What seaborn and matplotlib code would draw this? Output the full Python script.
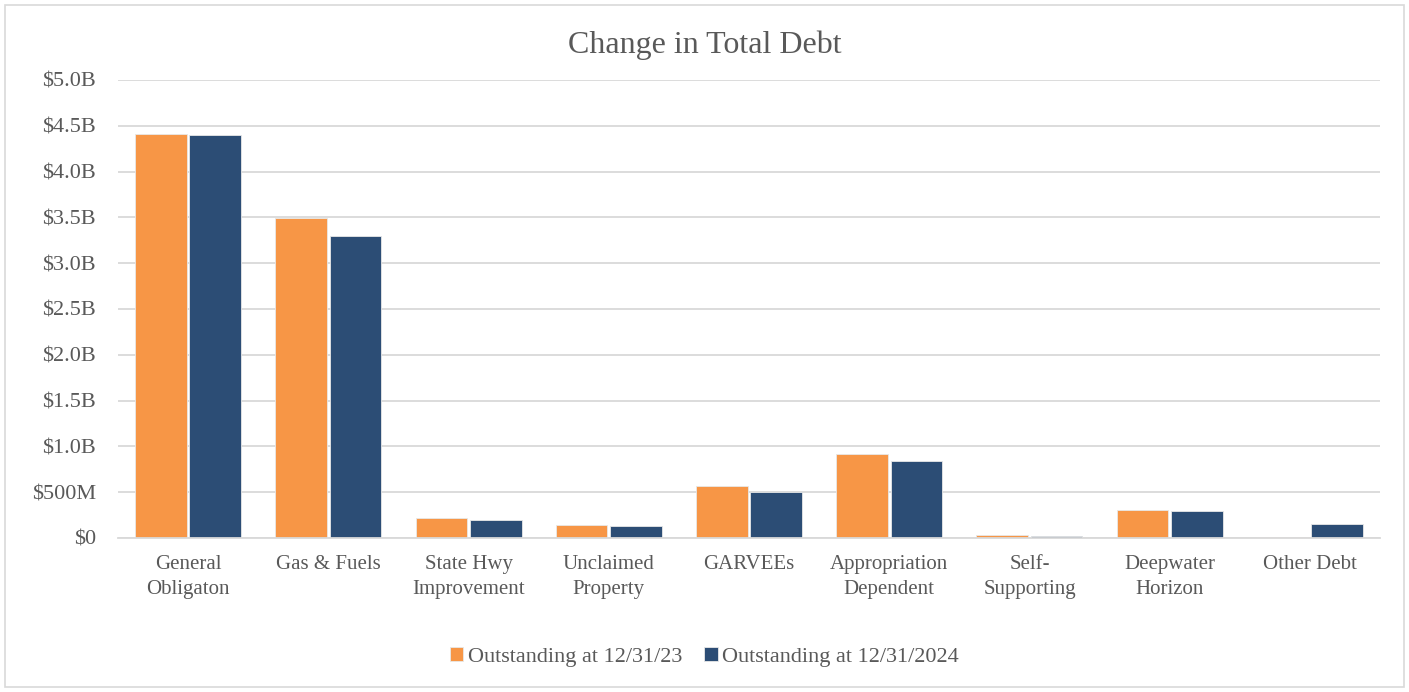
import matplotlib
matplotlib.use("Agg")
import matplotlib.pyplot as plt
from matplotlib.patches import Rectangle
import seaborn as sns
import pandas as pd

categories = ["General\nObligaton", "Gas & Fuels", "State Hwy\nImprovement", "Unclaimed\nProperty",
              "GARVEEs", "Appropriation\nDependent", "Self-\nSupporting", "Deepwater\nHorizon", "Other Debt"]
series_names = ["Outstanding at 12/31/23", "Outstanding at 12/31/2024"]
# Outstanding debt in billions of dollars
debt_2023 = [4.41, 3.49, 0.215, 0.145, 0.568, 0.917, 0.028, 0.305, 0.012]
debt_2024 = [4.40, 3.30, 0.197, 0.131, 0.502, 0.840, 0.020, 0.300, 0.150]
tick_values = [0, 0.5, 1.0, 1.5, 2.0, 2.5, 3.0, 3.5, 4.0, 4.5, 5.0]
tick_labels = ["$0", "$500M", "$1.0B", "$1.5B", "$2.0B", "$2.5B", "$3.0B", "$3.5B", "$4.0B", "$4.5B", "$5.0B"]

df = pd.DataFrame({
    "category": categories * 2,
    "series": [series_names[0]] * len(categories) + [series_names[1]] * len(categories),
    "value": debt_2023 + debt_2024,
})

sns.set_theme(style="white")
plt.rcParams["font.family"] = ["Liberation Serif", "DejaVu Serif"]
text_color = "#595959"

fig = plt.figure(figsize=(14.09, 6.92), dpi=100)
ax = fig.add_axes([118 / 1409, 1 - 538 / 692, (1380 - 118) / 1409, (538 - 80) / 692])

sns.barplot(data=df, x="category", y="value", hue="series", order=categories,
            hue_order=series_names, palette=["#F79646", "#2C4D75"],
            width=0.775, gap=0.05, ax=ax, edgecolor="#E8E8E8", linewidth=0.6,
            saturation=1, legend=True)

ax.set_ylim(0, 5.0)
ax.set_xlim(-0.5, len(categories) - 0.5)
ax.set_yticks(tick_values, tick_labels)
ax.yaxis.grid(True, color="#D9D9D9", linewidth=1.3)
ax.set_axisbelow(True)
for s in ["top", "right", "left"]:
    ax.spines[s].set_visible(False)
ax.spines["bottom"].set_color("#D9D9D9")
ax.spines["bottom"].set_linewidth(1.3)
ax.tick_params(axis="both", length=0, colors=text_color)
ax.tick_params(axis="y", pad=16, labelsize=16)
ax.tick_params(axis="x", pad=12, labelsize=15)
for lbl in ax.get_xticklabels():
    lbl.set_linespacing(1.45)
ax.set_xlabel("")
ax.set_ylabel("")

fig.text(0.5, 1 - 45 / 692, "Change in Total Debt", ha="center", va="center",
         fontsize=23, color=text_color)

handles, labels = ax.get_legend_handles_labels()
ax.legend_.remove()
fig.legend(handles, labels, loc="center", bbox_to_anchor=(0.5, 1 - 657 / 692), ncol=2,
           frameon=False, fontsize=16, labelcolor=text_color, handlelength=0.6,
           handleheight=0.6, handletextpad=0.2, columnspacing=1.0)

fig.patches.append(Rectangle((5 / 1409, 5 / 692), 1 - 10 / 1409, 1 - 10 / 692,
                             transform=fig.transFigure, fill=False,
                             edgecolor="#D9D9D9", linewidth=1.2))

fig.savefig("out.png", dpi=100, facecolor="white")
